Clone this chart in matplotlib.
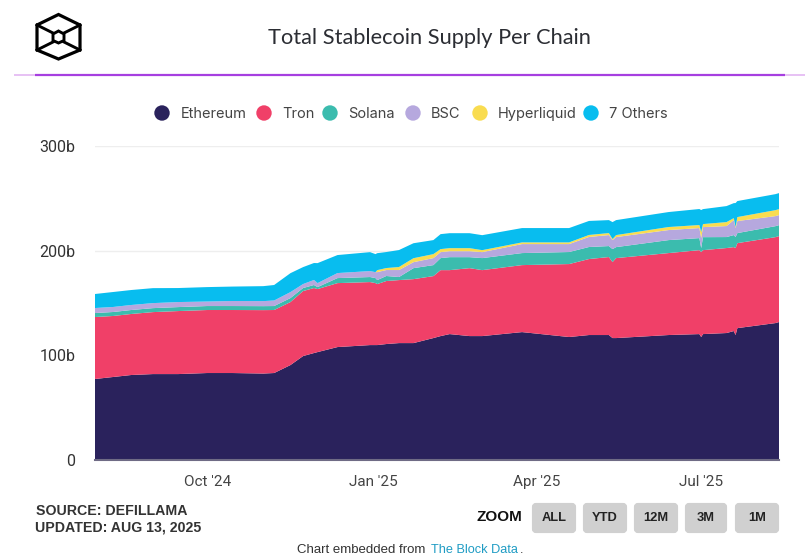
import matplotlib
matplotlib.use("Agg")
import matplotlib.pyplot as plt
import matplotlib.dates as mdates
from matplotlib.patches import FancyBboxPatch, Circle, Polygon
import numpy as np

W, H = 805, 555

dates = ["2024-07-31","2024-08-10","2024-08-20","2024-09-01","2024-09-15","2024-10-01","2024-10-15",
         "2024-11-01","2024-11-07","2024-11-16","2024-11-23","2024-11-29","2024-12-01","2024-12-12",
         "2024-12-30","2025-01-02","2025-01-03","2025-01-08","2025-01-15","2025-01-23","2025-02-03",
         "2025-02-07","2025-02-12","2025-02-23","2025-03-02","2025-03-24","2025-04-19","2025-04-30",
         "2025-05-11","2025-05-13","2025-05-15","2025-06-13","2025-06-30","2025-07-01","2025-07-02",
         "2025-07-15","2025-07-19","2025-07-20","2025-07-21","2025-08-11","2025-08-13"]
ethereum = [77.4,79.3,81.2,82.1,82.1,83.1,83.1,82.6,83.1,90.7,99.3,102.2,103.1,107.9,
            109.8,109.8,109.8,110.8,111.7,111.7,116.5,118.4,120.3,118.4,118.4,122.2,117.5,119.4,
            119.4,116.5,116.5,119.4,120.3,117.5,120.3,121.3,123.2,119.4,126.0,130.8,131.8]
tron = [59.2,58.3,58.3,59.2,60.2,60.2,60.2,60.6,60.2,60.2,62.1,62.1,60.2,61.1,
        60.2,59.2,58.3,60.2,60.2,61.1,59.2,63.0,61.1,64.9,63.0,64.0,69.7,72.6,
        74.5,72.6,76.4,78.3,80.2,81.2,80.2,81.2,80.2,83.1,81.2,82.1,82.1]
solana = [3.8,3.8,3.8,3.8,3.8,3.8,3.8,3.8,3.8,3.8,2.9,2.9,1.9,4.8,
          4.8,4.8,3.8,4.8,2.9,10.5,10.5,11.5,12.4,10.5,11.5,11.5,11.5,11.5,
          10.5,12.4,10.5,12.4,11.5,3.8,12.4,10.5,11.5,10.5,9.6,10.5,10.5]
bsc = [4.8,4.8,4.8,4.8,4.8,4.3,4.8,4.8,5.3,5.7,3.8,4.8,3.8,4.8,
       5.7,5.7,7.6,5.7,6.7,5.7,6.7,5.7,5.7,5.7,5.7,8.6,7.6,9.6,
       10.5,8.6,9.6,9.6,9.6,9.6,9.6,10.5,14.3,8.6,11.5,9.6,9.6]
hyperliquid = [0,0,0,0,0,0,0,0,0,0,0,0,0,0,
               0,0,1.9,1.9,2.9,3.8,3.8,2.9,2.9,2.9,1.9,1.6,1.6,1.9,
               1.9,1.0,1.9,2.9,2.9,5.7,2.9,3.8,1.9,1.0,3.8,5.7,5.7]
others = [13.4,14.3,14.3,14.3,13.4,13.8,13.8,14.3,14.8,18.1,16.2,16.2,19.1,17.2,
          18.1,17.2,16.2,15.3,16.2,14.3,13.4,14.3,14.3,14.3,14.3,13.7,13.7,13.4,
          12.4,16.2,14.3,14.3,15.3,21.0,14.3,15.3,14.3,22.9,15.3,15.3,15.3]
series_names = ["Ethereum","Tron","Solana","BSC","Hyperliquid","7 Others"]
series_colors = ["#2a225c","#f04068","#3bbcae","#b6a8de","#f9dc50","#08bdef"]
y_ticks = [0,100,200,300]
y_labels = ["0","100b","200b","300b"]
x_ticks = ["2024-10-01","2025-01-01","2025-04-01","2025-07-01"]
x_labels = ["Oct '24","Jan '25","Apr '25","Jul '25"]
buttons = ["ALL","YTD","12M","3M","1M"]

fig = plt.figure(figsize=(W/100, H/100), dpi=100, facecolor="white")
plt.rcParams["font.family"] = ["Roboto", "DejaVu Sans"]

ax = fig.add_axes([95/W, 1-460/H, (779-95)/W, (460-146)/H])
x = mdates.date2num(np.array(dates, dtype="datetime64[D]"))
ax.stackplot(x, ethereum, tron, solana, bsc, hyperliquid, others, colors=series_colors, linewidth=0, zorder=3)
ax.set_xlim(x[0], x[-1])
ax.set_ylim(0, 300)
ax.set_yticks(y_ticks, y_labels, fontsize=11.5, color="#333333")
ax.set_xticks(mdates.date2num(np.array(x_ticks, dtype="datetime64[D]")), x_labels, fontsize=11, color="#444444")
ax.tick_params(axis="both", length=0)
ax.tick_params(axis="y", pad=20)
ax.tick_params(axis="x", pad=11)
ax.grid(axis="y", color="#eeeeee", lw=1, zorder=0)
ax.set_axisbelow(True)
for s in ["top", "left", "right"]:
    ax.spines[s].set_visible(False)
ax.spines["bottom"].set_color("#6f6b85")
ax.spines["bottom"].set_linewidth(1.5)
ax.spines["bottom"].set_zorder(5)

# Overlay in pixel coordinates for page furniture
ov = fig.add_axes([0, 0, 1, 1], facecolor="none")
ov.set_xlim(0, W); ov.set_ylim(H, 0); ov.axis("off")

ov.text(429, 38, "Total Stablecoin Supply Per Chain", ha="center", va="center", fontsize=15.7, color="#2b2d33", family="Lato")
ov.plot([14, 35], [75, 75], color="#e3b6f2", lw=1.2, solid_capstyle="butt")
ov.plot([35, 785], [75, 75], color="#a63fe0", lw=1.6, solid_capstyle="butt")
ov.plot([785, 805], [75, 75], color="#e3b6f2", lw=1.2, solid_capstyle="butt")

# Logo
k = "#000000"
ov.add_patch(Polygon([(58.5,14.5),(80,25),(80,50),(58.5,59),(37,50),(37,25)], closed=True, fill=False, ec=k, lw=2.3, joinstyle="miter"))
ov.add_patch(Polygon([(58.5,31),(64,34),(64,40.5),(58.5,43),(53,40.5),(53,34)], closed=True, fill=False, ec=k, lw=2.1))
for a, b in [((37,25),(53,33)), ((80,25),(64,33)), ((37,50),(53,42)), ((80,50),(64,42))]:
    ov.plot([a[0], b[0]], [a[1], b[1]], color=k, lw=2.1)

# Legend
cx = [162, 264, 330, 413, 480, 591]
tx = [181, 282, 348, 431, 498, 609]
for name, col, c, t in zip(series_names, series_colors, cx, tx):
    ov.add_patch(Circle((c, 113), 7.7, fc=col, ec="none"))
    ov.text(t, 114, name, ha="left", va="center", fontsize=10.5, color="#444444", family="Inter")

# Footer
ov.text(36, 511, "SOURCE: DEFILLAMA", ha="left", va="center", fontsize=10.2, fontweight="bold", color="#333333", family="Liberation Sans")
ov.text(35, 527, "UPDATED: AUG 13, 2025", ha="left", va="center", fontsize=10.2, fontweight="bold", color="#333333", family="Liberation Sans")
ov.text(476, 517, "ZOOM", ha="left", va="center", fontsize=11, fontweight="bold", color="#111111", family="Liberation Sans")
bx = [(532,576),(583,627),(634,678),(685,727),(735,779)]
for lab, (a, b) in zip(buttons, bx):
    ov.add_patch(FancyBboxPatch((a+2, 505), b-a-4, 26, boxstyle="round,pad=0,rounding_size=2", mutation_scale=1, fc="#d0d0d0", ec="#d0d0d0", lw=3))
    ov.text((a+b)/2, 518, lab, ha="center", va="center", fontsize=9.3, fontweight="bold", color="#222222", family="Liberation Sans")
ov.text(297, 550, "Chart embedded from", ha="left", va="center", fontsize=9.5, color="#333333", family="Liberation Sans")
ov.text(431, 550, "The Block Data", ha="left", va="center", fontsize=9.2, color="#1f9cc4", family="Liberation Sans")
ov.text(519.5, 550, ".", ha="left", va="center", fontsize=9.2, color="#333333", family="Liberation Sans")

# y tick labels are drawn right-aligned ending at x=75 in the reference
ax.tick_params(axis="y", pad=14)

fig.savefig("out.png", dpi=100, facecolor="white")
